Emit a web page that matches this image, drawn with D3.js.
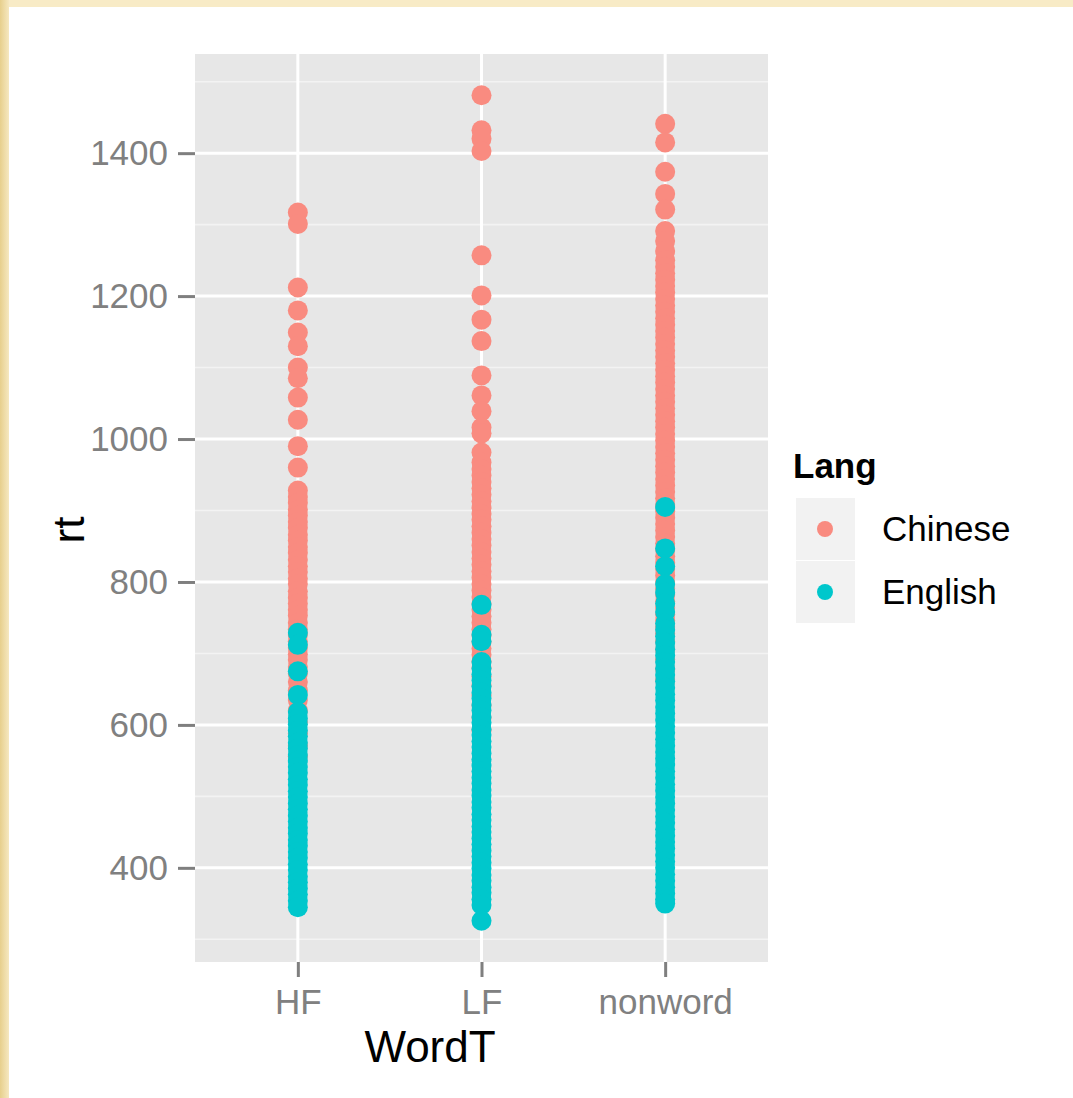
<!DOCTYPE html>
<html lang="en">

<head>
    <meta charset="utf-8">
    <title>rt by WordT and Lang</title>
    <script src="https://d3js.org/d3.v7.min.js"></script>
    <style type="text/css">
        body { margin: 0; background: #f4e4b6; }
        text { font-family: "Liberation Sans", Arial, sans-serif; }
    </style>
</head>

<body>
    <script type="text/javascript">

        //Width and height
        var w = 1073;
        var h = 1098;

        var categories = ["HF", "LF", "nonword"];
        var langs = ["Chinese", "English"];
        var langColors = ["#f98b80", "#00c7cc"];
        var yTicks = [400, 600, 800, 1000, 1200, 1400];
        var yMinor = [300, 500, 700, 900, 1100, 1300, 1500];

        // rt values, per word type and language
        var hfChinese = [1317, 1301, 1212, 1180, 1149, 1130, 1100, 1085, 1058, 1027, 990, 960,
            928, 919, 911, 901, 893, 884, 876, 866, 858, 849, 841, 831, 822, 814, 805, 797, 787, 778,
            770, 761, 753, 743, 734, 726, 717, 708, 699, 691, 681, 672, 660, 648, 635, 620, 604, 588, 571, 556];
        var hfEnglish = [729, 712, 675, 642, 618, 609, 601, 592, 584, 575, 567, 558, 550, 541, 533,
            524, 516, 507, 499, 490, 482, 473, 465, 456, 448, 439, 431, 422, 414, 405, 397, 388, 380,
            371, 363, 354, 345];
        var lfChinese = [1481, 1432, 1420, 1403, 1257, 1201, 1167, 1137, 1089, 1061, 1039, 1016, 1008, 981,
            967, 958, 949, 940, 931, 922, 913, 904, 895, 887, 878, 869, 860, 851, 842, 833, 824, 815,
            806, 797, 788, 779, 770, 761, 752, 743, 734, 725, 716, 707, 698, 689, 680, 668, 655, 641,
            627, 610, 592];
        var lfEnglish = [768, 726, 717, 688, 679, 671, 662, 654, 645, 637, 628, 620, 611, 603, 594, 586,
            577, 569, 560, 552, 543, 535, 526, 518, 509, 501, 492, 484, 475, 467, 458, 450, 441, 433,
            424, 416, 407, 399, 390, 382, 373, 365, 356, 348, 326];
        var nwChinese = [1441, 1415, 1374, 1343, 1321, 1291, 1277, 1263, 1250, 1241, 1232, 1223, 1214,
            1205, 1196, 1187, 1178, 1169, 1160, 1151, 1142, 1133, 1124, 1115, 1106, 1097, 1088, 1079,
            1070, 1061, 1052, 1043, 1034, 1025, 1016, 1007, 998, 989, 980, 971, 962, 953, 944, 935,
            926, 917, 908, 899, 890, 881, 872, 863, 854, 845, 836, 827, 818, 809, 800, 791, 782, 773,
            764, 755, 746, 737, 728, 717, 705, 692, 678, 663];
        var nwEnglish = [905, 847, 822, 797, 785, 770, 758, 742, 733, 724, 715, 706, 697, 688, 679, 670,
            661, 652, 643, 634, 625, 616, 607, 598, 589, 580, 571, 562, 553, 544, 535, 526, 517, 508,
            499, 490, 481, 472, 463, 454, 445, 436, 427, 418, 409, 400, 391, 382, 373, 364, 356, 350];

        var seriesByLang = {
            Chinese: [hfChinese, lfChinese, nwChinese],
            English: [hfEnglish, lfEnglish, nwEnglish]
        };

        // long table, Chinese rows first so English is drawn on top
        var dataset = [];
        langs.forEach(function (lang) {
            seriesByLang[lang].forEach(function (vals, i) {
                vals.forEach(function (v) {
                    dataset.push({ word: categories[i], lang: lang, rt: v });
                });
            });
        });

        // panel box
        var pLeft = 195, pRight = 768, pTop = 54, pBottom = 962;

        var ext = d3.extent(dataset, function (d) { return d.rt; });
        var pad = (ext[1] - ext[0]) * 0.05;

        var x = d3.scalePoint()
            .domain(categories)
            .range([pLeft, pRight])
            .padding(0.56);

        var y = d3.scaleLinear()
            .domain([ext[0] - pad, ext[1] + pad])
            .range([pBottom, pTop]);

        var color = d3.scaleOrdinal()
            .domain(langs)
            .range(langColors);

        var svg = d3.select("body")
            .append("svg")
            .attr("width", w)
            .attr("height", h);

        // parchment frame
        var defs = svg.append("defs");
        var grad = defs.append("linearGradient").attr("id", "edge");
        grad.append("stop").attr("offset", "0%").attr("stop-color", "#e7cf8c");
        grad.append("stop").attr("offset", "100%").attr("stop-color", "#f6e8c0");
        svg.append("rect").attr("width", w).attr("height", h).attr("fill", "#f8ebc6");
        svg.append("rect").attr("width", 9).attr("height", h).attr("fill", "url(#edge)");
        svg.append("rect")
            .attr("x", 9).attr("y", 7)
            .attr("width", w - 9).attr("height", h - 7)
            .attr("fill", "#ffffff");

        // panel and grid
        svg.append("rect")
            .attr("x", pLeft).attr("y", pTop)
            .attr("width", pRight - pLeft).attr("height", pBottom - pTop)
            .attr("fill", "#e7e7e7");

        svg.selectAll("line.minor")
            .data(yMinor.filter(function (t) { return y(t) > pTop && y(t) < pBottom; }))
            .enter()
            .append("line")
            .attr("class", "minor")
            .attr("x1", pLeft).attr("x2", pRight)
            .attr("y1", function (d) { return y(d); })
            .attr("y2", function (d) { return y(d); })
            .attr("stroke", "#f3f3f3")
            .attr("stroke-width", 1.6);

        svg.selectAll("line.major")
            .data(yTicks)
            .enter()
            .append("line")
            .attr("class", "major")
            .attr("x1", pLeft).attr("x2", pRight)
            .attr("y1", function (d) { return y(d); })
            .attr("y2", function (d) { return y(d); })
            .attr("stroke", "#ffffff")
            .attr("stroke-width", 3);

        svg.selectAll("line.vmajor")
            .data(categories)
            .enter()
            .append("line")
            .attr("class", "vmajor")
            .attr("y1", pTop).attr("y2", pBottom)
            .attr("x1", function (d) { return x(d); })
            .attr("x2", function (d) { return x(d); })
            .attr("stroke", "#ffffff")
            .attr("stroke-width", 3);

        // points
        svg.selectAll("circle.pt")
            .data(dataset)
            .enter()
            .append("circle")
            .attr("class", "pt")
            .attr("cx", function (d) { return x(d.word); })
            .attr("cy", function (d) { return y(d.rt); })
            .attr("r", 10)
            .attr("fill", function (d) { return color(d.lang); });

        // axes
        var yAxis = svg.append("g")
            .attr("transform", "translate(" + pLeft + ",0)")
            .call(d3.axisLeft(y).tickValues(yTicks).tickFormat(d3.format("d"))
                .tickSize(17).tickPadding(10));

        var xAxis = svg.append("g")
            .attr("transform", "translate(0," + pBottom + ")")
            .call(d3.axisBottom(x).tickSize(15).tickPadding(12));

        [yAxis, xAxis].forEach(function (g) {
            g.select(".domain").remove();
            g.selectAll(".tick line").attr("stroke", "#7f7f7f").attr("stroke-width", 3);
            g.selectAll(".tick text")
                .attr("fill", "#808080")
                .style("font-size", "35px")
                .style("font-family", "'Liberation Sans', Arial, sans-serif");
        });

        // axis titles
        svg.append("text")
            .attr("x", 430)
            .attr("y", 1062)
            .attr("text-anchor", "middle")
            .style("font-size", "44px")
            .attr("fill", "#000000")
            .text("WordT");

        svg.append("text")
            .attr("transform", "translate(84,530) rotate(-90)")
            .attr("text-anchor", "middle")
            .style("font-size", "44px")
            .attr("fill", "#000000")
            .text("rt");

        // legend
        var legend = svg.append("g");

        legend.append("text")
            .attr("x", 793)
            .attr("y", 478)
            .style("font-size", "35px")
            .style("font-weight", "bold")
            .text("Lang");

        var keys = legend.selectAll("g.key")
            .data(langs)
            .enter()
            .append("g")
            .attr("class", "key")
            .attr("transform", function (d, i) { return "translate(0," + (i * 63) + ")"; });

        keys.append("rect")
            .attr("x", 796).attr("y", 498)
            .attr("width", 59).attr("height", 62)
            .attr("fill", "#f2f2f2");

        keys.append("circle")
            .attr("cx", 825).attr("cy", 529)
            .attr("r", 8)
            .attr("fill", function (d) { return color(d); });

        keys.append("text")
            .attr("x", 882).attr("y", 529)
            .attr("dy", "0.35em")
            .style("font-size", "35px")
            .text(function (d) { return d; });
    </script>
</body>

</html>
